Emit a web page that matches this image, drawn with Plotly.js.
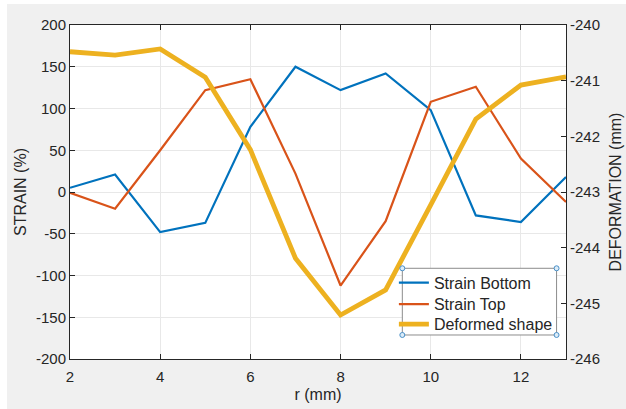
<!DOCTYPE html>
<html>
<head>
<meta charset="utf-8">
<script src="https://cdn.plot.ly/plotly-3.0.1.min.js"></script>
<style>
html,body{margin:0;padding:0;background:#ffffff;width:626px;height:409px;overflow:hidden;}
#chart{position:absolute;left:7px;top:4px;width:619px;height:405px;}
</style>
</head>
<body>
<div id="chart"></div>
<script>
const r = [2, 3, 4, 5, 6, 7, 8, 9, 10, 11, 12, 13];
const strainBottom = [5, 21, -48, -37, 78, 150, 122, 142, 98, -28, -36, 18];
const strainTop = [-1, -20, 50, 122, 135, 22, -112, -35, 108, 126, 40, -12];
const deformed = [-240.48, -240.54, -240.43, -240.94, -242.24, -244.19, -245.21, -244.76, -243.23, -241.69, -241.08, -240.93];

const xTicks = [2, 4, 6, 8, 10, 12];
const yTicks = [-200, -150, -100, -50, 0, 50, 100, 150, 200];
const y2Ticks = [-246, -245, -244, -243, -242, -241, -240];

const fnt = 'Liberation Sans, Arial, Helvetica, sans-serif';
const txt = '#262626';

const traces = [
  {x: r, y: strainBottom, name: 'Strain Bottom', type: 'scatter', mode: 'lines',
   line: {color: '#0072BD', width: 2.2}, yaxis: 'y', legend: 'legend'},
  {x: r, y: strainTop, name: 'Strain Top', type: 'scatter', mode: 'lines',
   line: {color: '#D95319', width: 2.2}, yaxis: 'y', legend: 'legend2'},
  {x: r, y: deformed, name: 'Deformed shape', type: 'scatter', mode: 'lines',
   line: {color: '#EDB120', width: 4.8}, yaxis: 'y2', legend: 'legend3'}
];

// legend frame and its selection handles (decorative)
const bx = [0.670, 0.981];
const by = [0.0719, 0.2716];
const shapes = [{type: 'rect', xref: 'paper', yref: 'paper', layer: 'above',
  x0: bx[0], x1: bx[1], y0: by[0], y1: by[1],
  line: {color: '#8c8c8c', width: 1}, fillcolor: '#ffffff'}];
bx.forEach(px => by.forEach(py => {
  shapes.push({type: 'circle', xref: 'paper', yref: 'paper', layer: 'above',
    x0: px - 0.005, x1: px + 0.005, y0: py - 0.0075, y1: py + 0.0075,
    line: {color: '#4a90c8', width: 1}, fillcolor: '#dcecf8'});
}));

function leg(yc) {
  return {x: 0.653, y: yc, xanchor: 'left', yanchor: 'middle',
    bgcolor: 'rgba(0,0,0,0)', borderwidth: 0,
    font: {family: fnt, size: 16, color: txt}, itemwidth: 30};
}

const layout = {
  width: 619, height: 405,
  paper_bgcolor: '#f0f0f0', plot_bgcolor: '#ffffff',
  margin: {l: 63, r: 60, t: 21, b: 50, pad: 0},
  font: {family: fnt, color: txt, size: 15},
  showlegend: true,
  legend: leg(0.2284),
  legend2: leg(0.1638),
  legend3: leg(0.1039),
  xaxis: {range: [2, 13], tickvals: xTicks, ticktext: xTicks.map(String),
    showgrid: true, gridcolor: '#e8e8e8', gridwidth: 1, zeroline: false,
    showline: true, linecolor: '#262626', linewidth: 1, mirror: 'ticks',
    ticks: 'inside', ticklen: 5, tickcolor: '#262626', ticklabelstandoff: 4,
    tickfont: {family: fnt, size: 15, color: txt},
    title: {text: 'r (mm)', font: {family: fnt, size: 16, color: txt}, standoff: 4}},
  yaxis: {range: [-200, 200], tickvals: yTicks, ticktext: yTicks.map(String),
    showgrid: true, gridcolor: '#e8e8e8', gridwidth: 1, zeroline: false,
    showline: true, linecolor: '#262626', linewidth: 1,
    ticks: 'inside', ticklen: 5, tickcolor: '#262626',
    tickfont: {family: fnt, size: 15, color: txt},
    title: {text: 'STRAIN (%)', font: {family: fnt, size: 16, color: txt}, standoff: 5}},
  yaxis2: {range: [-246, -240], tickvals: y2Ticks, ticktext: y2Ticks.map(String),
    overlaying: 'y', side: 'right', showgrid: false, zeroline: false,
    showline: true, linecolor: '#262626', linewidth: 1,
    ticks: 'inside', ticklen: 5, tickcolor: '#262626',
    tickfont: {family: fnt, size: 15, color: txt},
    title: {text: 'DEFORMATION (mm)', font: {family: fnt, size: 16, color: txt}, standoff: 10}},
  shapes: shapes
};

Plotly.newPlot('chart', traces, layout, {displayModeBar: false, staticPlot: true});
</script>
</body>
</html>
